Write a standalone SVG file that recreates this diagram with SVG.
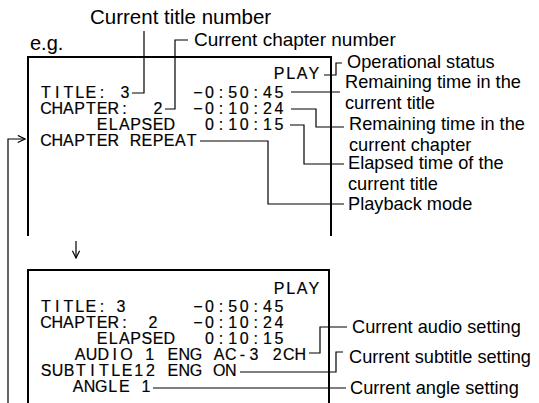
<svg xmlns="http://www.w3.org/2000/svg" width="539" height="403" viewBox="0 0 539 403">
<style>
.box{fill:none;stroke:#000;stroke-width:2}
.lead{fill:none;stroke:#000;stroke-width:1.2}
.osd{font-family:"Liberation Sans",Arial,sans-serif;font-size:16px;text-anchor:middle;fill:#000;stroke:#000;stroke-width:0.2}
.lbl{font-family:"Liberation Sans",Arial,sans-serif;font-size:18.2px;fill:#000}
.lbs{font-family:"Liberation Sans",Arial,sans-serif;font-size:18.2px;fill:#000}
</style>
<defs>
<marker id="open" viewBox="0 0 10 10" refX="9" refY="5" markerWidth="9" markerHeight="9" markerUnits="userSpaceOnUse" orient="auto">
<path d="M1,1 L9,5 L1,9" fill="none" stroke="#000" stroke-width="1.3"/>
</marker>
</defs>
<rect width="539" height="403" fill="#fff"/>

<g id="eg"><text class="lbl" x="30" y="50" style="font-size:20px">e.g.</text></g>

<g id="screen1">
<path class="box" d="M28,236 V57 H331 V236"/>
<text class="osd" y="79" x="279 290.6 302.2 313.8">PLAY</text>
<text class="osd" y="98" x="46 57.2 68.4 79.6 90.8 102">TITLE:</text>
<text class="osd" y="98" x="125">3</text>
<text class="osd" y="98" x="197.8 209.4 221 232.6 244.2 255.8 267.4 279">−0:50:45</text>
<text class="osd" y="114" x="46 57.2 68.4 79.6 90.8 102 113.2 124.4">CHAPTER:</text>
<text class="osd" y="114" x="158">2</text>
<text class="osd" y="114" x="197.8 209.4 221 232.6 244.2 255.8 267.4 279">−0:10:24</text>
<text class="osd" y="130" x="102 113.2 124.4 135.6 146.8 158 169.2">ELAPSED</text>
<text class="osd" y="130" x="209.4 221 232.6 244.2 255.8 267.4 279">0:10:15</text>
<text class="osd" y="146" x="46 57.2 68.4 79.6 90.8 102 113.2">CHAPTER</text>
<text class="osd" y="146" x="135.6 146.8 158 169.2 180.4 191.6">REPEAT</text>
</g>

<g id="screen2">
<path class="box" d="M28,404 V270 H329 V404"/>
<text class="osd" y="294" x="279 290.6 302.2 313.8">PLAY</text>
<text class="osd" y="312" x="46 57.2 68.4 79.6 90.8 102">TITLE:</text>
<text class="osd" y="312" x="121">3</text>
<text class="osd" y="312" x="197.8 209.4 221 232.6 244.2 255.8 267.4 279">−0:50:45</text>
<text class="osd" y="328" x="46 57.2 68.4 79.6 90.8 102 113.2 124.4">CHAPTER:</text>
<text class="osd" y="328" x="153">2</text>
<text class="osd" y="328" x="197.8 209.4 221 232.6 244.2 255.8 267.4 279">−0:10:24</text>
<text class="osd" y="344" x="102 113.2 124.4 135.6 146.8 158 169.2">ELAPSED</text>
<text class="osd" y="344" x="209.4 221 232.6 244.2 255.8 267.4 279">0:10:15</text>
<text class="osd" y="360" x="80 91.6 103.2 114.8 126.4">AUDIO</text>
<text class="osd" y="360" x="149.6">1</text>
<text class="osd" y="360" x="172.8 184.4 196">ENG</text>
<text class="osd" y="360" x="219.2 230.8 242.4 254">AC-3</text>
<text class="osd" y="360" x="277.2 288.8 300.4">2CH</text>
<text class="osd" y="376" x="46 57.6 69.2 80.8 92.4 104 115.6 127.2 138.8 150.4">SUBTITLE12</text>
<text class="osd" y="376" x="172.8 184.4 196">ENG</text>
<text class="osd" y="376" x="219.2 230.8">ON</text>
<text class="osd" y="392" x="78 89.6 101.2 112.8 124.4">ANGLE</text>
<text class="osd" y="392" x="146">1</text>
</g>

<g id="label-title-number"><text class="lbl" x="90" y="24" style="font-size:20.5px">Current title number</text></g>
<g id="label-chapter-number"><text class="lbl" x="194" y="46" style="font-size:19px">Current chapter number</text></g>
<g id="label-status"><text class="lbl" x="347" y="68">Operational status</text></g>
<g id="label-remain-title"><text class="lbl" x="345" y="88">Remaining time in the</text><text class="lbl" x="345" y="108.5">current title</text></g>
<g id="label-remain-chapter"><text class="lbl" x="349" y="130">Remaining time in the</text><text class="lbl" x="349" y="150.5">current chapter</text></g>
<g id="label-elapsed"><text class="lbl" x="348" y="169">Elapsed time of the</text><text class="lbl" x="348" y="189.5">current title</text></g>
<g id="label-playback"><text class="lbl" x="348" y="210">Playback mode</text></g>
<g id="label-audio"><text class="lbs" x="352" y="333">Current audio setting</text></g>
<g id="label-subtitle"><text class="lbs" x="349" y="363">Current subtitle setting</text></g>
<g id="label-angle"><text class="lbs" x="350" y="394">Current angle setting</text></g>

<g id="connectors">
<path class="lead" d="M132,93 H144 V31"/>
<path class="lead" d="M165,109 H175 V40 H188"/>
<path class="lead" d="M324,75 H336 V63 H342"/>
<path class="lead" d="M291,92 H340"/>
<path class="lead" d="M291,109 H316 V127 H344"/>
<path class="lead" d="M290,125 H304 V164 H344"/>
<path class="lead" d="M200,141 H268 V204 H344"/>
<path class="lead" d="M309,353 H320 V327 H347"/>
<path class="lead" d="M240,372 H336 V352 H343"/>
<path class="lead" d="M153,388 H346"/>
<path class="lead" d="M8,404 V139 H25" marker-end="url(#open)"/>
<path class="lead" d="M76,241 V258" marker-end="url(#open)"/>
</g>
</svg>
